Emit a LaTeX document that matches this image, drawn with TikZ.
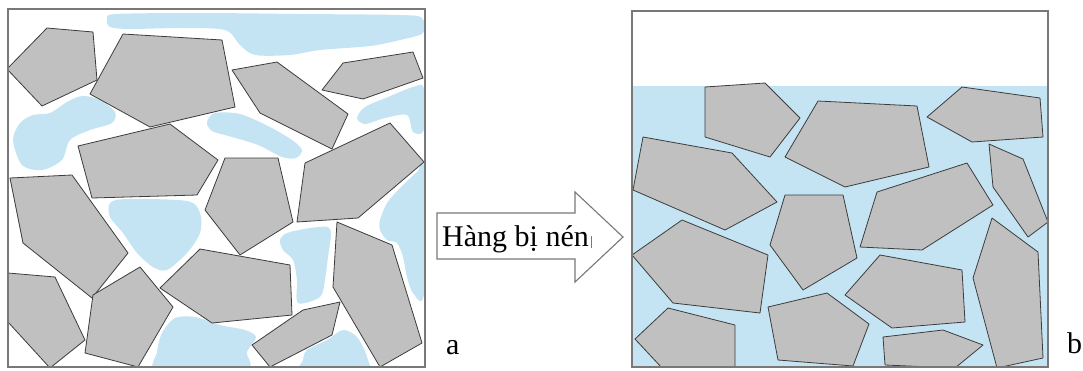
\documentclass[tikz,border=0pt]{standalone}
\usepackage{fontspec}
\setmainfont{Liberation Serif}
\usepackage{tikz}
\usetikzlibrary{positioning}
\usepackage{xcolor}

\definecolor{stonegray}{RGB}{192,192,192}
\definecolor{stoneedge}{RGB}{60,60,60}
\definecolor{waterblue}{RGB}{196,228,244}
\definecolor{framegray}{RGB}{120,120,120}

\begin{document}
\begin{tikzpicture}[
  x=1pt, y=-1pt,
  stone/.style={fill=stonegray, draw=stoneedge, line width=0.8pt, line join=round},
  water/.style={fill=waterblue, draw=none},
  frame/.style={draw=framegray, line width=1.4pt},
  lbl/.style={font=\fontsize{30}{36}\selectfont, inner sep=0pt},
]
  \useasboundingbox (0,0) rectangle (1083,370);

  % left sample: loose stones with water pockets
  \begin{scope}
    \clip (8,9) rectangle (425,367);
    \fill[water] plot[smooth cycle] coordinates {(107,19) (116,14) (200,13) (300,14) (400,15) (422,18) (423,33) (400,40) (370,46) (320,50) (290,55) (255,55) (240,45) (225,30) (180,28) (130,29) (110,27)};
    \fill[water] plot[smooth cycle] coordinates {(13,140) (20,123) (33,115) (50,113) (67,102) (82,96) (100,100) (115,112) (112,123) (90,130) (70,140) (62,160) (42,170) (22,165)};
    \fill[water] plot[smooth cycle] coordinates {(207,122) (215,113) (240,114) (268,126) (292,140) (302,150) (296,158) (282,157) (258,145) (232,137) (212,131)};
    \fill[water] plot[smooth cycle] coordinates {(357,118) (365,107) (388,97) (413,87) (424,88) (424,130) (413,132) (407,115) (385,118) (365,124)};
    \fill[water] plot[smooth cycle] coordinates {(110,203) (127,199) (187,201) (200,213) (200,233) (187,253) (167,270) (153,267) (137,253) (123,233) (110,217)};
    \fill[water] plot[smooth cycle] coordinates {(380,220) (387,203) (400,188) (417,172) (424,168) (424,293) (413,293) (407,277) (403,257) (397,243) (387,240) (380,230)};
    \fill[water] plot[smooth cycle] coordinates {(280,240) (287,233) (310,228) (328,227) (331,235) (328,257) (325,280) (320,297) (298,303) (297,280) (293,260) (283,250)};
    \fill[water] plot[smooth cycle] coordinates {(157,352) (162,333) (175,318) (195,317) (220,325) (245,330) (256,337) (247,352) (245,370) (158,372)};
    \fill[water] plot[smooth cycle] coordinates {(303,360) (307,350) (327,340) (343,330) (357,337) (367,357) (365,372) (302,372)};

    \draw[stone] (47,28) -- (93,32) -- (97,80) -- (42,106) -- (7,69) -- cycle;
    \draw[stone] (123,34) -- (222,40) -- (235,107) -- (150,127) -- (90,94) -- cycle;
    \draw[stone] (232,70) -- (277,62) -- (348,114) -- (332,149) -- (260,113) -- cycle;
    \draw[stone] (322,90) -- (343,63) -- (413,52) -- (423,78) -- (363,99) -- cycle;
    \draw[stone] (78,146) -- (170,124) -- (218,160) -- (197,195) -- (92,198) -- cycle;
    \draw[stone] (10,178) -- (72,175) -- (128,253) -- (92,298) -- (23,243) -- cycle;
    \draw[stone] (8,273) -- (55,277) -- (85,340) -- (50,368) -- (8,322) -- cycle;
    \draw[stone] (93,295) -- (140,267) -- (173,307) -- (138,367) -- (85,353) -- cycle;
    \draw[stone] (225,158) -- (278,158) -- (293,222) -- (240,255) -- (205,210) -- cycle;
    \draw[stone] (305,163) -- (390,123) -- (424,162) -- (358,218) -- (297,222) -- cycle;
    \draw[stone] (200,249) -- (290,265) -- (292,315) -- (212,323) -- (160,288) -- cycle;
    \draw[stone] (337,222) -- (392,245) -- (422,343) -- (380,367) -- (333,287) -- cycle;
    \draw[stone] (252,345) -- (303,310) -- (340,302) -- (332,335) -- (270,367) -- cycle;
  \end{scope}
  \draw[frame] (8,9) rectangle (425,367);

  % right sample: stones packed under the water line
  \begin{scope}
    \clip (632,11) rectangle (1048,367);
    \fill[water] (632,86) rectangle (1048,367);
    \draw[stone] (705,87) -- (765,83) -- (800,118) -- (770,157) -- (705,137) -- cycle;
    \draw[stone] (818,101) -- (917,106) -- (929,167) -- (845,187) -- (785,157) -- cycle;
    \draw[stone] (962,87) -- (1040,98) -- (1043,137) -- (972,142) -- (927,117) -- cycle;
    \draw[stone] (989,144) -- (1023,159) -- (1048,222) -- (1028,237) -- (993,187) -- cycle;
    \draw[stone] (643,137) -- (732,153) -- (777,202) -- (725,230) -- (633,190) -- cycle;
    \draw[stone] (785,195) -- (843,195) -- (857,258) -- (803,290) -- (770,245) -- cycle;
    \draw[stone] (877,192) -- (967,163) -- (993,205) -- (922,250) -- (860,247) -- cycle;
    \draw[stone] (682,220) -- (768,255) -- (760,313) -- (673,303) -- (632,255) -- cycle;
    \draw[stone] (668,308) -- (735,325) -- (735,368) -- (662,368) -- (635,339) -- cycle;
    \draw[stone] (768,307) -- (827,293) -- (869,324) -- (853,366) -- (778,360) -- cycle;
    \draw[stone] (880,255) -- (962,270) -- (965,322) -- (892,328) -- (845,295) -- cycle;
    \draw[stone] (992,218) -- (1038,252) -- (1043,358) -- (997,368) -- (973,278) -- cycle;
    \draw[stone] (883,337) -- (943,330) -- (983,345) -- (955,368) -- (885,365) -- cycle;
  \end{scope}
  \draw[frame] (632,11) rectangle (1048,367);

  % compression arrow
  \draw[draw=framegray, line width=1.1pt, fill=white, line join=miter]
    (437,213) -- (575,213) -- (575,192) -- (623,237) -- (575,282) -- (575,259) -- (437,259) -- cycle;
  \node[lbl, anchor=base west] (press) at (442,246) {Hàng bị nén};
  \draw[framegray, line width=0.6pt] ([xshift=2pt]press.base east) ++(0,-10) -- ++(0,12);

  \node[lbl, anchor=base west] (lbla) at (446,354) {a};
  \node[lbl, anchor=base west] (lblb) at (1067,353) {b};
\end{tikzpicture}
\end{document}
